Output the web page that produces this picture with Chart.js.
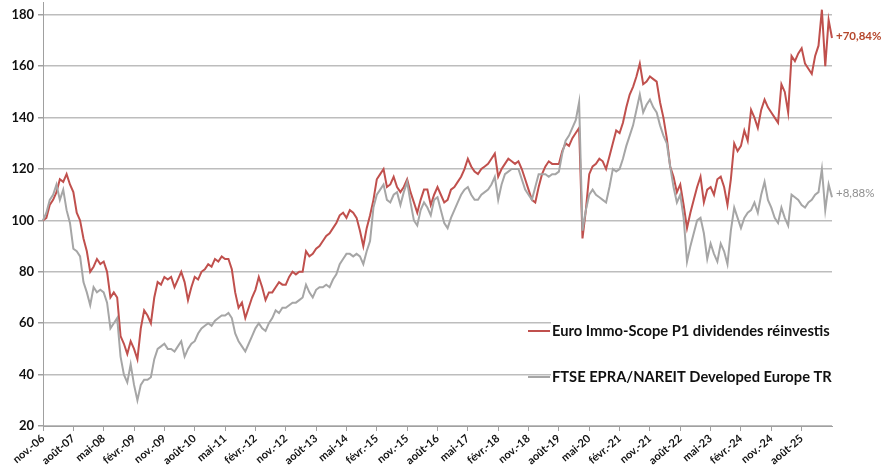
<!DOCTYPE html>
<html>
<head>
<meta charset="utf-8">
<script src="https://cdn.jsdelivr.net/npm/chart.js@4.4.1/dist/chart.umd.min.js"></script>
<style>
	html, body { margin: 0; padding: 0; background: #fff; }
	#wrap { position: relative; width: 887px; height: 471px; }
</style>
</head>
<body>
<div id="wrap"><canvas id="canvas-element"></canvas></div>
<script>
const kSeriesNames = ["Euro Immo-Scope P1 dividendes réinvestis", "FTSE EPRA/NAREIT Developed Europe TR"];
const kSeriesColors = ["#c0504d", "#a6a6a6"];
const kEndLabels = ["+70,84%", "+8,88%"];
const kEndLabelColors = ["#b5472c", "#8f8f8f"];
const kMonthNames = ["janv.", "févr.", "mars", "avr.", "mai", "juin", "juil.", "août", "sept.", "oct.", "nov.", "déc."];
const kStartYear = 2006;
const kStartMonth = 10; // nov.
const kTickEvery = 9; // one label every 9 months
const kYTicks = [20, 40, 60, 80, 100, 120, 140, 160, 180];

// monthly values, nov.-06 .. mai-26, base 100
const kImmoScope = [
	100, 101, 106, 108, 111, 116, 115, 118, 114, 111, 103, 100, 93, 88, 80, 82, 85, 83, 84, 80,
	70, 72, 70, 55, 52, 48, 53, 50, 46, 58, 65, 63, 60, 70, 76, 75, 78, 77, 78, 74,
	77, 80, 76, 69, 74, 78, 77, 80, 81, 83, 82, 85, 84, 86, 85, 85, 81, 72, 66, 68,
	62, 66, 70, 73, 78, 74, 69, 72, 72, 74, 76, 75, 75, 78, 80, 79, 80, 80, 88, 86,
	87, 89, 90, 92, 94, 95, 97, 99, 102, 103, 101, 104, 103, 101, 96, 90, 97, 102, 108, 116,
	118, 120, 113, 114, 117, 113, 111, 113, 116, 111, 107, 103, 108, 112, 112, 106, 110, 113, 110, 107,
	108, 112, 113, 115, 117, 120, 124, 121, 119, 118, 120, 121, 122, 124, 126, 117, 120, 122, 124, 123,
	122, 123, 120, 116, 112, 108, 107, 113, 118, 121, 123, 122, 122, 122, 127, 130, 129, 132, 134, 136,
	93, 104, 118, 121, 122, 124, 123, 120, 125, 130, 135, 134, 138, 144, 149, 152, 156, 161, 153, 154,
	156, 155, 154, 146, 140, 132, 121, 117, 111, 114, 106, 97, 103, 108, 113, 117, 107, 112, 113, 110,
	116, 117, 113, 106, 116, 130, 127, 129, 135, 131, 143, 140, 136, 143, 147, 144, 142, 140, 138, 153,
	150, 142, 164, 162, 165, 167, 161, 159, 157, 164, 168, 182, 160, 178, 171
];
const kFtseEpra = [
	100, 103, 108, 110, 114, 108, 112, 104, 99, 89, 88, 86, 76, 72, 67, 74, 72, 73, 72, 68,
	58, 60, 62, 47, 40, 37, 44, 36, 30, 36, 38, 38, 39, 46, 50, 51, 52, 50, 50, 49,
	51, 53, 47, 50, 52, 53, 56, 58, 59, 60, 59, 61, 62, 63, 63, 64, 62, 56, 53, 51,
	49, 52, 55, 58, 60, 58, 57, 60, 62, 65, 64, 66, 66, 67, 68, 68, 69, 70, 75, 72,
	70, 73, 74, 74, 75, 74, 77, 79, 83, 85, 87, 87, 86, 87, 86, 83, 88, 92, 105, 110,
	112, 114, 108, 107, 110, 111, 106, 111, 115, 107, 100, 98, 104, 107, 105, 102, 108, 109, 104, 99,
	97, 101, 104, 107, 110, 112, 113, 110, 108, 108, 110, 111, 112, 114, 117, 108, 114, 118, 119, 120,
	120, 120, 116, 112, 110, 108, 113, 118, 118, 118, 117, 118, 118, 119, 126, 131, 133, 136, 139, 146,
	96, 104, 110, 112, 110, 109, 108, 107, 113, 120, 119, 120, 124, 129, 133, 137, 143, 149, 142, 145,
	147, 144, 142, 137, 133, 130, 121, 113, 107, 110, 101, 84, 90, 95, 100, 101, 95, 85, 91, 87,
	84, 91, 88, 83, 96, 105, 101, 97, 101, 103, 104, 107, 103, 110, 115, 108, 105, 101, 99, 105,
	101, 98, 110, 109, 108, 106, 105, 107, 108, 110, 111, 120, 104, 114, 109
];

function buildMonthLabels(count) {
	const labels = [];
	for (let i = 0; i < count; ++i) {
		const m = (kStartMonth + i) % 12;
		const y = kStartYear + Math.floor((kStartMonth + i) / 12);
		labels.push(`${kMonthNames[m]}-${String(y % 100).padStart(2, "0")}`);
	}
	return labels;
}

// legend inside the plot + end-of-line labels
const overlayPlugin = {
	id: "overlay",
	afterDatasetsDraw(chart) {
		const ctx = chart.ctx;
		const area = chart.chartArea;
		const yScale = chart.scales.y;
		ctx.save();

		// legend box covers the gridlines behind the text
		ctx.fillStyle = "#fff";
		ctx.fillRect(551, 319, area.right - 551, 70);

		const rows = [331, 377];
		ctx.font = "bold 14.7px Lato, 'Open Sans', sans-serif";
		ctx.textBaseline = "middle";
		ctx.textAlign = "left";
		for (let i = 0; i < kSeriesNames.length; ++i) {
			ctx.strokeStyle = kSeriesColors[i];
			ctx.lineWidth = 2;
			ctx.beginPath();
			ctx.moveTo(528, rows[i]);
			ctx.lineTo(550, rows[i]);
			ctx.stroke();
			ctx.fillStyle = "#111";
			ctx.fillText(kSeriesNames[i], 552, rows[i]);
		}

		// end labels next to the last value
		const lastValues = [kImmoScope[kImmoScope.length - 1], kFtseEpra[kFtseEpra.length - 1]];
		const fonts = ["bold 11.5px Lato, sans-serif", "11.5px Lato, sans-serif"];
		const shifts = [-2, -4];
		for (let i = 0; i < kEndLabels.length; ++i) {
			ctx.font = fonts[i];
			ctx.fillStyle = kEndLabelColors[i];
			ctx.fillText(kEndLabels[i], area.right + 4, yScale.getPixelForValue(lastValues[i]) + shifts[i]);
		}
		ctx.restore();
	}
};

function renderChart() {
	const labels = buildMonthLabels(kImmoScope.length);
	const context = document.getElementById("canvas-element").getContext("2d");

	return new Chart(context, {
		type: "line",
		data: {
			labels,
			datasets: [
				{
					label: kSeriesNames[1],
					data: kFtseEpra,
					borderColor: kSeriesColors[1],
					backgroundColor: "transparent",
					borderWidth: 2
				},
				{
					label: kSeriesNames[0],
					data: kImmoScope,
					borderColor: kSeriesColors[0],
					backgroundColor: "transparent",
					borderWidth: 2
				}
			]
		},
		options: {
			responsive: true,
			maintainAspectRatio: false,
			animation: false,
			pointRadius: 0, // no point markers
			tension: 0,
			layout: {
				padding: {top: 2, right: 55, left: 0, bottom: 0}
			},
			plugins: {
				legend: {display: false},
				tooltip: {enabled: false}
			},
			scales: {
				x: {
					type: "category",
					offset: false,
					afterBuildTicks: (axis) => {
						// every 9 months, last month left unlabelled
						axis.ticks = axis.ticks.filter(t => t.value % kTickEvery === 0 && t.value < labels.length - 1);
					},
					afterFit: (axis) => {
						axis.height = 45;
						axis.paddingLeft = 0;
						axis.paddingRight = 0;
					},
					ticks: {
						autoSkip: false,
						minRotation: 40,
						maxRotation: 40,
						padding: 1,
						color: "#111",
						font: {family: "Lato", size: 11, weight: "bold"}
					},
					grid: {
						drawOnChartArea: false,
						drawTicks: true,
						tickLength: 5,
						color: "#a0a0a0"
					},
					border: {color: "#a0a0a0", width: 1}
				},
				y: {
					min: 20,
					max: 185,
					afterBuildTicks: (axis) => {
						axis.ticks = kYTicks.map(v => ({value: v}));
					},
					afterFit: (axis) => {
						axis.width = 43;
						axis.paddingTop = 0;
						axis.paddingBottom = 0;
					},
					ticks: {
						padding: 4,
						color: "#111",
						font: {family: "Lato", size: 13, weight: "bold"}
					},
					grid: {
						color: "#bdbdbd",
						lineWidth: 1.5,
						tickLength: 5,
						tickColor: "#a0a0a0"
					},
					border: {color: "#a0a0a0", width: 1}
				}
			}
		},
		plugins: [overlayPlugin]
	});
}

renderChart();
</script>
</body>
</html>
